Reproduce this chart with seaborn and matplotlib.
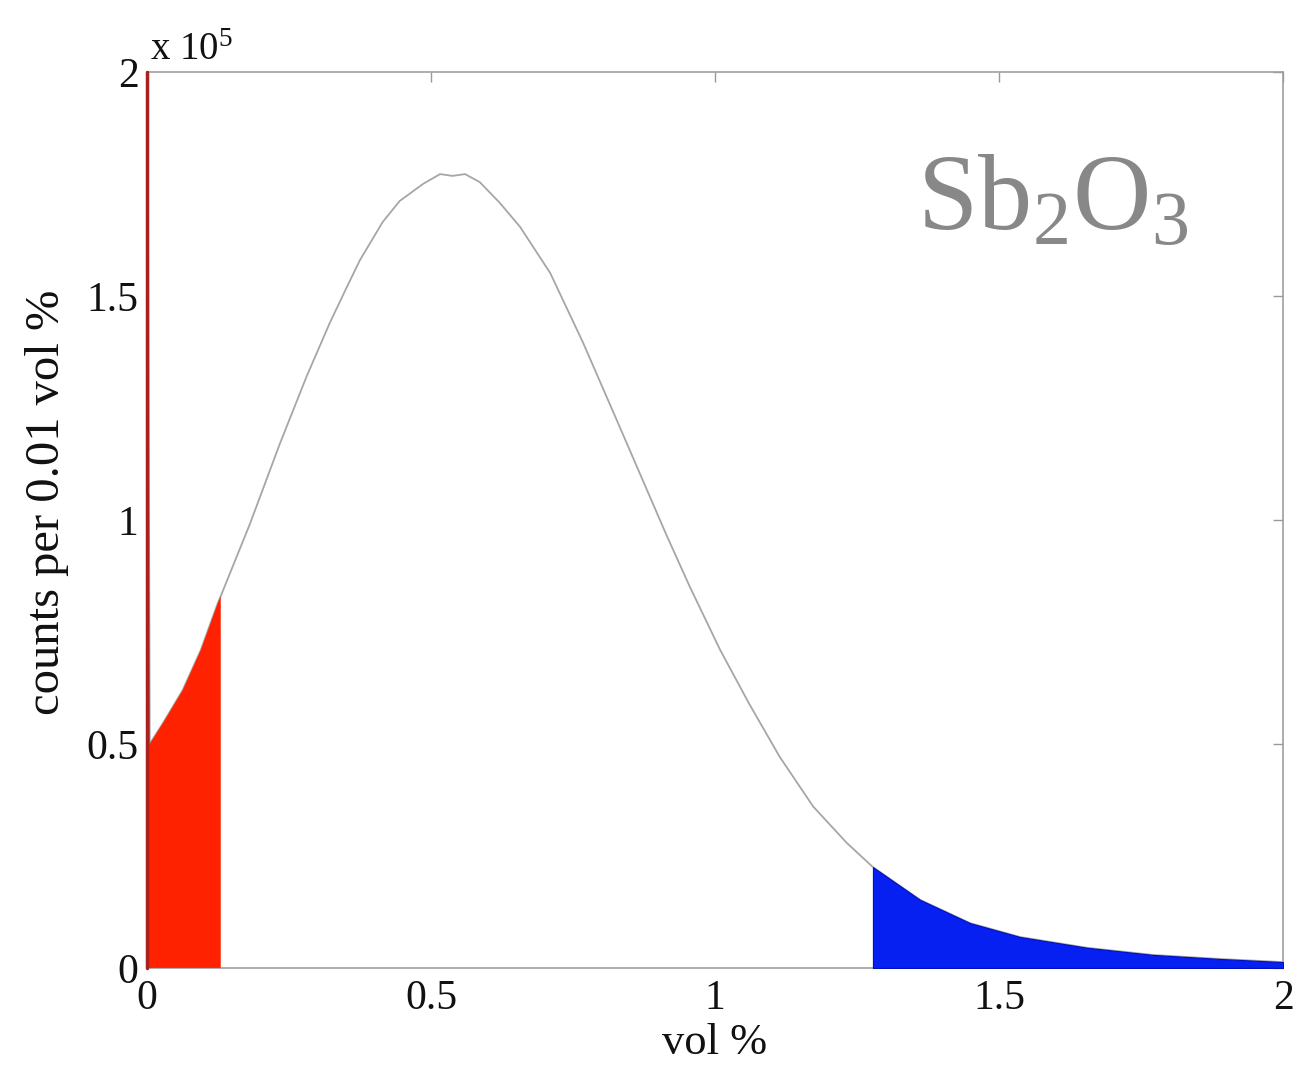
import numpy as np
import pandas as pd
import matplotlib
matplotlib.use("Agg")
import matplotlib.pyplot as plt
import seaborn as sns

# values (counts in units of 1e5)
vol = [0.0, 0.005, 0.03, 0.063, 0.095, 0.125, 0.13, 0.181, 0.234, 0.281,
       0.322, 0.352, 0.375, 0.415, 0.445, 0.486, 0.516, 0.538, 0.560, 0.586,
       0.621, 0.657, 0.710, 0.768, 0.827, 0.886, 0.915, 0.956, 1.009, 1.06,
       1.114, 1.173, 1.232, 1.278, 1.361, 1.449, 1.537, 1.655, 1.771, 1.889, 2.0]
counts = [2.6, 0.50, 0.55, 0.62, 0.71, 0.815, 0.83, 0.99, 1.17, 1.32,
          1.44, 1.52, 1.58, 1.665, 1.712, 1.75, 1.772, 1.768, 1.772, 1.754,
          1.708, 1.654, 1.551, 1.395, 1.223, 1.05, 0.965, 0.85, 0.71, 0.59,
          0.471, 0.36, 0.279, 0.225, 0.152, 0.10, 0.069, 0.045, 0.029, 0.020, 0.013]
low_cut = 0.13
high_cut = 1.278
x_ticks = [0, 0.5, 1, 1.5, 2]
x_tick_labels = ["0", "0.5", "1", "1.5", "2"]
y_ticks = [0, 0.5, 1, 1.5, 2]
y_tick_labels = ["0", "0.5", "1", "1.5", "2"]

df = pd.DataFrame({"vol": vol, "counts": counts})

sns.set_theme(style="white")
plt.rcParams["font.family"] = ["Liberation Serif", "DejaVu Serif"]
plt.rcParams["mathtext.fontset"] = "custom"
plt.rcParams["mathtext.rm"] = "Liberation Serif"
plt.rcParams["mathtext.it"] = "Liberation Serif:italic"

fig = plt.figure(figsize=(13, 10.66), dpi=100)
ax = fig.add_axes([0.113, 0.092, 0.874, 0.8405])

sns.lineplot(data=df, x="vol", y="counts", color="#a6a6a6", linewidth=1.3,
             estimator=None, sort=False, ax=ax, zorder=2)

# shaded tails
lo = df[df["vol"] <= low_cut]
hi = df[df["vol"] >= high_cut]
ax.fill_between(lo["vol"], 0, lo["counts"], color="#ff2200", linewidth=0, zorder=3)
ax.plot([0, 0], [0, 2], color="#a82020", linewidth=2.5, zorder=4, clip_on=False)
ax.fill_between(hi["vol"], 0, hi["counts"], color="#0520f0", linewidth=0.8,
                edgecolor="#0010c0", zorder=3)

ax.set_xlim(0, 2)
ax.set_ylim(0, 2)
ax.set_xticks(x_ticks)
ax.set_xticklabels(x_tick_labels)
ax.set_yticks(y_ticks)
ax.set_yticklabels(y_tick_labels)
ax.tick_params(axis="both", direction="in", length=7, width=1, color="#999999",
               labelsize=30, labelcolor="#111111", top=True, right=True, pad=6)
ax.tick_params(axis="x", pad=8)

for s in ax.spines.values():
    s.set_color("#a0a0a0")
    s.set_linewidth(1.2)

ax.set_xlabel("vol %", fontsize=32, color="#111111")
ax.xaxis.set_label_coords(0.5, -0.062)
ax.set_ylabel("counts per 0.01 vol %", fontsize=35, color="#111111")
ax.yaxis.set_label_coords(-0.069, 0.52)

ax.text(0.003, 1.003, r"x 10$^{5}$", transform=ax.transAxes, fontsize=28,
        color="#111111", ha="left", va="bottom")
ax.text(0.917, 0.853, r"Sb$_{2}$O$_{3}$", transform=ax.transAxes, fontsize=78,
        color="#888888", ha="right", va="center")

fig.savefig("out.png", dpi=100, facecolor="white")
